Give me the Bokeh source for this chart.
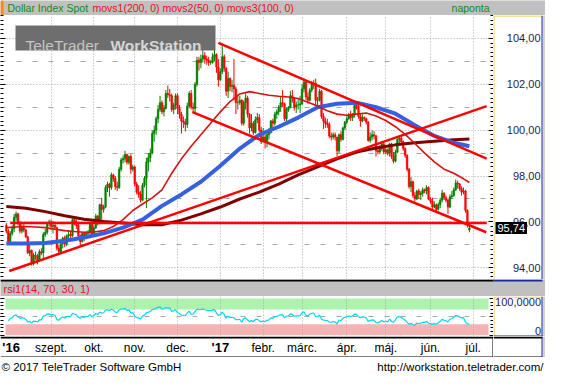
import numpy as np
from bokeh.plotting import figure
from bokeh.layouts import column, row
from bokeh.models import Range1d, LinearAxis, FixedTicker, Grid, BoxAnnotation, Label
from bokeh.core.properties import value
from bokeh.embed import file_html
from bokeh.resources import INLINE

# ---------------- data ----------------
TITLE = "Dollar Index Spot"
INDICATORS = "movs1(200, 0) movs2(50, 0) movs3(100, 0)"
PERIOD = "naponta"
RSI_TITLE = "rsi1(14, 70, 30, 1)"
COPYRIGHT = "\u00a9 2017 TeleTrader Software GmbH"
URL = "http://workstation.teletrader.com/"

# one bar per weekday, bar 0 = 1 Aug 2016
opens = [
    95.85, 95.60, 95.15, 95.50, 95.70, 96.20, 96.35, 95.95, 95.60, 95.75,
    95.65, 95.35, 94.65, 94.75, 94.20, 94.55, 94.50, 94.30, 94.70, 94.65,
    95.45, 95.55, 95.95, 96.00, 95.80, 95.85, 95.75, 94.85, 94.70, 95.05,
    95.30, 95.05, 95.40, 95.45, 95.40, 96.10, 96.00, 95.85, 95.40, 95.15,
    95.50, 95.30, 95.50, 95.55, 95.90, 95.45, 95.75, 96.25, 96.05, 96.75,
    96.55, 96.65, 97.50, 97.65, 97.50, 98.05, 97.90, 97.55, 97.50, 98.30,
    98.70, 98.75, 98.95, 98.60, 98.85, 98.30, 98.40, 97.65, 97.30, 97.20,
    96.95, 97.60, 97.90, 98.60, 98.80, 99.00, 99.85, 100.00, 100.50, 100.90,
    101.20, 100.80, 100.95, 101.60, 101.55, 101.50, 100.90, 101.10, 101.50, 100.95,
    100.70, 100.40, 100.35, 100.25, 101.05, 101.60, 101.00, 100.95, 102.00, 103.05,
    102.95, 103.10, 103.25, 103.10, 103.05, 102.95, 102.95, 103.20, 103.30, 102.75,
    102.20, 102.55, 103.20, 102.70, 101.70, 102.25, 101.90, 101.95, 101.80, 101.20,
    101.20, 101.30, 100.30, 101.20, 101.40, 100.70, 100.10, 100.30, 99.90, 100.45,
    100.55, 100.00, 99.50, 99.70, 99.50, 99.80, 99.90, 100.40, 100.30, 100.70,
    100.80, 101.00, 101.20, 101.15, 100.50, 100.90, 101.00, 101.50, 101.40, 101.00,
    101.10, 101.10, 101.15, 101.80, 102.10, 101.45, 101.30, 101.75, 102.00, 102.05,
    101.30, 101.30, 101.70, 100.60, 100.40, 100.30, 100.25, 99.75, 99.70, 99.80,
    99.70, 99.10, 99.80, 99.60, 100.10, 100.35, 100.50, 100.65, 100.55, 100.70,
    101.10, 101.05, 100.60, 100.40, 100.55, 100.50, 100.35, 99.55, 99.70, 99.80,
    99.75, 99.10, 99.05, 99.20, 99.40, 99.05, 99.15, 99.00, 99.40, 98.85,
    98.65, 99.05, 99.60, 99.65, 99.50, 99.20, 98.90, 98.30, 97.55, 97.75,
    97.15, 97.00, 97.35, 97.20, 97.25, 97.40, 97.35, 97.50, 97.00, 96.90,
    96.65, 96.75, 96.55, 96.75, 96.95, 97.25, 97.05, 96.95, 96.65, 97.10,
    97.15, 97.40, 97.70, 97.65, 97.45, 97.30, 97.35, 96.50, 95.65,
]
highs = [
    95.95, 95.70, 95.60, 95.85, 96.35, 96.45, 96.40, 96.05, 95.90, 95.95,
    95.70, 95.40, 95.00, 94.80, 94.65, 94.70, 94.60, 94.80, 94.85, 95.55,
    95.70, 96.00, 96.10, 96.10, 96.05, 95.95, 95.80, 95.00, 95.15, 95.35,
    95.40, 95.45, 95.60, 95.60, 96.15, 96.20, 96.10, 96.00, 95.45, 95.55,
    95.55, 95.60, 95.65, 96.00, 96.00, 95.85, 96.35, 96.30, 96.80, 97.05,
    96.75, 97.60, 97.75, 97.70, 98.15, 98.10, 98.00, 97.75, 98.40, 98.80,
    98.90, 99.10, 98.95, 98.90, 98.95, 98.50, 98.45, 97.75, 97.60, 97.35,
    97.70, 98.00, 98.80, 99.00, 99.20, 100.00, 100.20, 100.60, 101.10, 101.50,
    101.30, 101.10, 101.75, 101.95, 101.80, 101.60, 101.20, 101.60, 101.60, 101.10,
    100.80, 100.60, 100.50, 101.20, 101.70, 101.75, 101.20, 102.10, 103.20, 103.20,
    103.30, 103.65, 103.40, 103.25, 103.20, 103.05, 103.35, 103.50, 103.35, 103.10,
    102.70, 103.80, 103.30, 102.75, 102.55, 102.30, 102.20, 103.10, 101.90, 101.55,
    101.50, 101.35, 101.30, 101.60, 101.50, 100.75, 100.70, 100.40, 100.60, 100.75,
    100.70, 100.15, 100.10, 99.85, 100.00, 100.10, 100.45, 100.50, 100.80, 100.90,
    101.10, 101.45, 101.75, 101.20, 101.00, 101.05, 101.70, 101.75, 101.45, 101.25,
    101.35, 101.50, 102.00, 102.25, 102.15, 101.65, 101.85, 102.15, 102.20, 102.25,
    101.45, 101.80, 101.75, 100.75, 100.55, 100.50, 100.35, 99.90, 99.90, 99.90,
    99.70, 99.85, 99.95, 100.15, 100.40, 100.60, 100.75, 100.85, 100.75, 101.20,
    101.20, 101.10, 100.70, 100.70, 100.60, 100.55, 100.40, 99.90, 100.00, 99.95,
    99.80, 99.25, 99.35, 99.50, 99.45, 99.30, 99.20, 99.45, 99.45, 99.05,
    99.15, 99.65, 99.75, 99.80, 99.55, 99.25, 98.95, 98.35, 97.95, 97.80,
    97.30, 97.40, 97.45, 97.35, 97.50, 97.45, 97.60, 97.55, 97.10, 97.05,
    96.90, 96.80, 96.85, 97.05, 97.40, 97.30, 97.15, 97.00, 97.20, 97.35,
    97.50, 97.85, 97.80, 97.70, 97.55, 97.50, 97.40, 96.55, 95.90,
]
lows = [
    95.50, 95.05, 95.05, 95.40, 95.55, 96.05, 95.85, 95.50, 95.50, 95.55,
    95.30, 94.60, 94.50, 94.10, 94.10, 94.35, 94.15, 94.25, 94.55, 94.40,
    95.35, 95.45, 95.80, 95.65, 95.50, 95.65, 94.75, 94.55, 94.65, 94.85,
    94.90, 94.95, 95.30, 95.30, 95.35, 95.85, 95.70, 95.30, 94.95, 95.10,
    95.15, 95.25, 95.30, 95.45, 95.35, 95.40, 95.70, 95.85, 96.00, 96.10,
    96.40, 96.60, 97.30, 97.10, 97.40, 97.75, 97.40, 97.35, 97.45, 98.20,
    98.55, 98.60, 98.50, 98.50, 98.10, 98.20, 97.55, 97.20, 97.05, 96.85,
    96.90, 97.50, 96.60, 98.20, 98.60, 98.95, 99.50, 99.80, 100.30, 100.80,
    100.70, 100.60, 100.90, 101.40, 101.25, 100.80, 100.70, 100.90, 100.70, 100.50,
    99.85, 100.10, 99.95, 100.10, 100.95, 100.90, 100.75, 100.70, 101.90, 102.60,
    102.70, 102.95, 102.90, 102.85, 102.80, 102.85, 102.90, 103.00, 102.50, 101.90,
    102.15, 102.45, 102.55, 101.50, 101.40, 101.70, 101.65, 101.30, 100.70, 100.90,
    101.10, 100.20, 100.20, 100.90, 100.55, 99.85, 99.95, 99.80, 99.85, 100.30,
    99.90, 99.40, 99.45, 99.20, 99.25, 99.60, 99.85, 100.10, 100.20, 100.50,
    100.65, 100.80, 101.00, 100.40, 100.35, 100.80, 100.95, 101.20, 100.85, 100.75,
    100.90, 100.75, 101.10, 101.65, 101.30, 101.15, 101.25, 101.65, 101.80, 101.10,
    101.05, 101.25, 100.50, 100.05, 100.10, 100.10, 99.65, 99.55, 99.60, 99.55,
    98.85, 99.00, 99.50, 99.55, 100.00, 100.25, 100.45, 100.40, 100.40, 100.55,
    100.90, 100.50, 100.15, 100.35, 100.40, 100.25, 99.50, 99.45, 99.55, 99.60,
    98.85, 98.95, 98.95, 99.10, 98.95, 98.95, 98.90, 98.85, 98.75, 98.55,
    98.60, 99.00, 99.40, 99.40, 99.10, 98.80, 98.20, 97.45, 97.30, 97.05,
    96.90, 96.95, 97.00, 96.95, 97.10, 97.25, 97.20, 96.95, 96.80, 96.50,
    96.60, 96.45, 96.50, 96.60, 96.85, 96.95, 96.85, 96.35, 96.60, 97.00,
    97.10, 97.35, 97.45, 97.35, 97.15, 97.20, 96.40, 95.75, 95.55,
]
closes = [
    95.60, 95.15, 95.50, 95.70, 96.20, 96.35, 95.95, 95.60, 95.75, 95.65,
    95.35, 94.65, 94.75, 94.20, 94.55, 94.50, 94.30, 94.70, 94.65, 95.45,
    95.55, 95.95, 96.00, 95.80, 95.85, 95.75, 94.85, 94.70, 95.05, 95.30,
    95.05, 95.40, 95.45, 95.40, 96.10, 96.00, 95.85, 95.40, 95.15, 95.50,
    95.30, 95.50, 95.55, 95.90, 95.45, 95.75, 96.25, 96.05, 96.75, 96.55,
    96.65, 97.50, 97.65, 97.50, 98.05, 97.90, 97.55, 97.50, 98.30, 98.70,
    98.75, 98.95, 98.60, 98.85, 98.30, 98.40, 97.65, 97.30, 97.20, 96.95,
    97.60, 97.90, 98.60, 98.80, 99.00, 99.85, 100.00, 100.50, 100.90, 101.20,
    100.80, 100.95, 101.60, 101.55, 101.50, 100.90, 101.10, 101.50, 100.95, 100.70,
    100.40, 100.35, 100.25, 101.05, 101.60, 101.00, 100.95, 102.00, 103.05, 102.95,
    103.10, 103.25, 103.10, 103.05, 102.95, 102.95, 103.20, 103.30, 102.75, 102.20,
    102.55, 103.20, 102.70, 101.70, 102.25, 101.90, 101.95, 101.80, 101.20, 101.20,
    101.30, 100.30, 101.20, 101.40, 100.70, 100.10, 100.30, 99.90, 100.45, 100.55,
    100.00, 99.50, 99.70, 99.50, 99.80, 99.90, 100.40, 100.30, 100.70, 100.80,
    101.00, 101.20, 101.15, 100.50, 100.90, 101.00, 101.50, 101.40, 101.00, 101.10,
    101.10, 101.15, 101.80, 102.10, 101.45, 101.30, 101.75, 102.00, 102.05, 101.30,
    101.30, 101.70, 100.60, 100.40, 100.30, 100.25, 99.75, 99.70, 99.80, 99.70,
    99.10, 99.80, 99.60, 100.10, 100.35, 100.50, 100.65, 100.55, 100.70, 101.10,
    101.05, 100.60, 100.40, 100.55, 100.50, 100.35, 99.55, 99.70, 99.80, 99.75,
    99.10, 99.05, 99.20, 99.40, 99.05, 99.15, 99.00, 99.40, 98.85, 98.65,
    99.05, 99.60, 99.65, 99.50, 99.20, 98.90, 98.30, 97.55, 97.75, 97.15,
    97.00, 97.35, 97.20, 97.25, 97.40, 97.35, 97.50, 97.00, 96.90, 96.65,
    96.75, 96.55, 96.75, 96.95, 97.25, 97.05, 96.95, 96.65, 97.10, 97.15,
    97.40, 97.70, 97.65, 97.45, 97.30, 97.35, 96.50, 95.90, 95.74,
]

# moving averages (bar index -> value)
ma_idx_10 = [0, 10, 20, 30, 40, 50, 60, 70, 80, 90, 100, 110, 120, 130, 140, 150,
             160, 170, 180, 190, 200, 210, 220, 230, 238]
ma200 = [96.67, 96.60, 96.45, 96.27, 96.12, 96.02, 95.95, 95.88, 95.88, 96.08, 96.35,
         96.65, 97.00, 97.30, 97.65, 98.05, 98.40, 98.75, 99.05, 99.22, 99.36, 99.45,
         99.52, 99.58, 99.62]
ma100 = [95.06, 95.06, 95.08, 95.18, 95.32, 95.50, 95.75, 96.10, 96.70, 97.20, 97.75,
         98.45, 99.20, 99.80, 100.15, 100.55, 101.00, 101.15, 101.20, 101.00, 100.72,
         100.22, 99.75, 99.45, 99.30]
ma_idx_5 = [0, 5, 10, 15, 20, 25, 30, 35, 40, 45, 50, 55, 60, 65, 70, 75, 80, 85, 90,
            95, 100, 105, 110, 115, 120, 125, 130, 135, 140, 145, 150, 155, 160, 165,
            170, 175, 180, 185, 190, 195, 200, 205, 210, 215, 220, 225, 230, 235, 238]
ma50 = [95.75, 95.78, 95.80, 95.78, 95.75, 95.68, 95.62, 95.58, 95.55, 95.56, 95.62,
        95.80, 96.10, 96.50, 96.78, 97.05, 97.40, 98.12, 98.75, 99.30, 99.80, 100.30,
        100.80, 101.25, 101.58, 101.68, 101.60, 101.52, 101.48, 101.45, 101.38, 101.22,
        101.05, 100.85, 100.70, 100.65, 100.70, 100.75, 100.62, 100.42, 100.15, 99.82,
        99.42, 99.00, 98.62, 98.30, 98.12, 97.88, 97.72]

# drawn trend lines (start bar, start price, end bar, end price)
trend_x0 = [1.5, 2.0, 109.0, 95.7]
trend_y0 = [93.86, 95.95, 103.81, 100.79]
trend_x1 = [246.9, 246.9, 246.9, 246.7]
trend_y1 = [101.05, 95.95, 98.76, 95.55]

price_ticks = [94, 96, 98, 100, 102, 104]
price_half_ticks = [95, 97, 99, 101, 103]
month_idx = [0, 23, 45, 66, 88, 110, 132, 152, 175, 195, 218, 240]
month_labels = ["'16", "szept.", "okt.", "nov.", "dec.", "'17", "febr.", "m\u00e1rc.",
                "\u00e1pr.", "m\u00e1j.", "j\u00fan.", "j\u00fal."]

RSI_PERIOD = 14
RSI_UPPER, RSI_LOWER, RSI_MID = 70, 30, 50
RSI_SEED_GAIN, RSI_SEED_LOSS = 0.12, 0.15
rsi_ticks = [100, 0]
rsi_labels = ["100,0000", "0"]

# ---------------- layout constants ----------------
FONT = "Liberation Sans"
W, FW = 545, 493
BW = W - FW
H_HEAD, H_MAIN, H_RSIHEAD, H_RSI, H_XLAB, H_FOOT = 15, 264, 17, 40, 21, 18
X_START, X_END = -3.0, 250.4
P_LO, P_HI = 93.49, 105.0
R_LO, R_HI = -3.5, 105.4

GRAY = "#c0c0c0"
YEL = "#eec143"
BOXBLUE = "#1a2ba0"
STRIP = "#d4d0c8"
UP, DOWN = "#008000", "#ff0000"
GRID_C = "#a8a8a8"


def px2x(px):
    return X_START + px * (X_END - X_START) / FW


def py2p(py):
    return P_HI - py * (P_HI - P_LO) / H_MAIN


def py2r(py):
    return R_HI - py * (R_HI - R_LO) / H_RSI


def plain(width, height, xr, yr, bg="white"):
    f = figure(width=width, height=height, x_range=xr, y_range=yr,
               toolbar_location=None, output_backend="svg",
               x_axis_location=None, y_axis_location=None,
               min_border=0, outline_line_color=None,
               background_fill_color=bg, border_fill_color=bg)
    f.grid.visible = False
    return f


def box(fig, color, **kw):
    fig.add_layout(BoxAnnotation(fill_color=color, fill_alpha=1.0, line_color=None, **kw))


def tick_axis(ticks, minor, major_len, minor_len):
    return LinearAxis(ticker=FixedTicker(ticks=ticks, minor_ticks=minor),
                      major_label_overrides={t: "" for t in ticks},
                      major_label_standoff=0, axis_line_color=None,
                      major_tick_in=major_len, major_tick_out=0,
                      minor_tick_in=minor_len, minor_tick_out=0,
                      major_tick_line_color="black", minor_tick_line_color="black")


def add_grid(fig, dim, ticks, dash):
    fig.add_layout(Grid(dimension=dim, ticker=FixedTicker(ticks=ticks),
                        grid_line_color=GRID_C, grid_line_dash=dash, grid_line_width=1))


def lbl(fig, x, y, text, color="black", size="11px", align="left", style="normal",
        baseline="middle"):
    fig.add_layout(Label(x=x, y=y, text=text, text_color=color, text_font=FONT,
                         text_font_size=size, text_align=align, text_font_style=style,
                         text_baseline=baseline))


XR = Range1d(X_START, X_END)

# ---------------- header ----------------
header = plain(W, H_HEAD, Range1d(0, W), Range1d(H_HEAD, 0), GRAY)
box(header, "#ff8c00", left=0, right=3)
lbl(header, 7, 7.5, TITLE, "#138a13", "10.5px")
lbl(header, 92, 7.5, INDICATORS, "#e8101a", "10.5px")
lbl(header, FW - 4, 7.5, PERIOD, "#138a13", "10.5px", align="right")

# ---------------- main price panel ----------------
main = plain(FW, H_MAIN, XR, Range1d(P_LO, P_HI))
price_minor = [round(93.6 + 0.2 * k, 1) for k in range(58)]
main.add_layout(tick_axis(price_ticks, price_minor, 5, 3), "left")
main.add_layout(tick_axis(price_ticks, price_minor, 5, 3), "right")
add_grid(main, 0, month_idx[1:], "1 2")
add_grid(main, 1, price_ticks, "1 2")
add_grid(main, 1, price_half_ticks, "5 11")

idx = list(range(len(closes)))
colors = [UP if c >= o else DOWN for o, c in zip(opens, closes)]
body_top = [max(o, c) for o, c in zip(opens, closes)]
body_bot = [min(o, c) for o, c in zip(opens, closes)]
main.segment(x0=idx, y0=lows, x1=idx, y1=highs, line_color=colors, line_width=1)
main.vbar(x=idx, width=0.8, top=body_top, bottom=body_bot,
          fill_color=colors, line_color=colors, line_width=0.6)

main.line(ma_idx_10, ma200, line_color="#800000", line_width=3)
main.line(ma_idx_10, ma100, line_color="#3560e0", line_width=4)
main.line(ma_idx_5, ma50, line_color="#d81010", line_width=1.6)
main.segment(x0=trend_x0, y0=trend_y0, x1=trend_x1, y1=trend_y1,
             line_color="#ff0000", line_width=2.5)

# watermark
box(main, "#6e6e6e", left=px2x(15), right=px2x(215), top=py2p(10), bottom=py2p(35))
lbl(main, px2x(25), py2p(30), "TeleTrader", "#c4c4c4", "15.5px", baseline="alphabetic")
lbl(main, px2x(110), py2p(30), "WorkStation", "#d6d6d6", "15.5px", style="bold",
    baseline="alphabetic")

# price axis box
mbox = plain(BW, H_MAIN, Range1d(0, BW), main.y_range)
box(mbox, STRIP, left=BW - 3, right=BW)
box(mbox, YEL, left=0, right=1)
box(mbox, YEL, left=0, right=BW - 3, bottom=py2p(1))
box(mbox, BOXBLUE, left=BW - 4, right=BW - 3)
mbox.text(x=[47] * len(price_ticks), y=price_ticks,
          text=[f"{t:.2f}".replace(".", ",") for t in price_ticks],
          text_align="right", text_baseline="middle", text_font=value(FONT),
          text_font_size="11px", text_color="#1c1c4c")
last = closes[-1]
mbox.add_layout(Label(x=2, y=last, text=f"{last:.2f}".replace(".", ","),
                      text_color="white", background_fill_color="black",
                      text_font=FONT, text_font_size="11px", text_baseline="middle",
                      padding=2))

# ---------------- RSI header ----------------
rsihead = plain(W, H_RSIHEAD, Range1d(0, W), Range1d(H_RSIHEAD, 0), GRAY)
box(rsihead, "black", left=0, right=FW, top=0, bottom=2)
box(rsihead, BOXBLUE, left=FW, right=W - 3, top=0, bottom=2)
lbl(rsihead, 3, 9.5, RSI_TITLE, "#e8101a")

# ---------------- RSI panel ----------------
c_arr = np.array(closes)
diffs = np.diff(c_arr)
ag, al = RSI_SEED_GAIN, RSI_SEED_LOSS
rsi_vals = []
for d in diffs:
    ag = (ag * (RSI_PERIOD - 1) + max(d, 0.0)) / RSI_PERIOD
    al = (al * (RSI_PERIOD - 1) + max(-d, 0.0)) / RSI_PERIOD
    rsi_vals.append(100.0 - 100.0 / (1.0 + ag / al))

rsi_fig = plain(FW, H_RSI, XR, Range1d(R_LO, R_HI))
box(rsi_fig, "#adf2ad", left=px2x(5), right=px2x(488), bottom=RSI_UPPER, top=100,
    level="underlay")
box(rsi_fig, "#f5b4b4", left=px2x(5), right=px2x(488), bottom=0, top=RSI_LOWER,
    level="underlay")
rsi_minor = list(range(0, 101, 10))
rsi_fig.add_layout(tick_axis([0, 50, 100], rsi_minor, 4, 3), "left")
rsi_fig.add_layout(tick_axis([0, 50, 100], rsi_minor, 4, 3), "right")
add_grid(rsi_fig, 0, month_idx[1:], "1 2")
add_grid(rsi_fig, 1, [RSI_MID], "5 11")
rsi_fig.line(idx[1:], rsi_vals, line_color="#00d8f0", line_width=1.2)

rbox = plain(BW, H_RSI, Range1d(0, BW), rsi_fig.y_range)
box(rbox, STRIP, left=BW - 3, right=BW)
box(rbox, YEL, left=0, right=1)
box(rbox, YEL, left=0, right=BW - 3, bottom=py2r(1))
box(rbox, BOXBLUE, left=BW - 4, right=BW - 3)
box(rbox, BOXBLUE, left=0, right=BW - 3, top=py2r(H_RSI - 1))
rbox.text(x=[47.5], y=[rsi_ticks[0]], text=[rsi_labels[0]], text_align="right",
          text_baseline="top", text_font=value(FONT), text_font_size="11px",
          text_color="#1c1c4c")
rbox.text(x=[47.5], y=[py2r(H_RSI - 1.5)], text=[rsi_labels[1]], text_align="right",
          text_baseline="bottom", text_font=value(FONT), text_font_size="11px",
          text_color="#1c1c4c")

# ---------------- time axis row ----------------
xlab = plain(FW, H_XLAB, XR, Range1d(H_XLAB, 0))
box(xlab, "black", top=0, bottom=2)
box(xlab, "black", top=H_XLAB - 1, bottom=H_XLAB)
box(xlab, "black", left=px2x(FW - 1), right=px2x(FW))
years_i = [i for i, t in enumerate(month_labels) if t.startswith("'")]
months_i = [i for i, t in enumerate(month_labels) if not t.startswith("'")]
xlab.text(x=[month_idx[0]], y=[11], text=[month_labels[0]], text_align="left",
          x_offset=-4, text_baseline="middle", text_font=value(FONT),
          text_font_size="13px", text_font_style="bold", text_color="black")
xlab.text(x=[month_idx[i] for i in years_i[1:]], y=[11] * len(years_i[1:]),
          text=[month_labels[i] for i in years_i[1:]], text_align="center",
          text_baseline="middle", text_font=value(FONT), text_font_size="13px",
          text_font_style="bold", text_color="black")
xlab.text(x=[month_idx[i] for i in months_i], y=[11] * len(months_i),
          text=[month_labels[i] for i in months_i], text_align="center",
          text_baseline="middle", text_font=value(FONT), text_font_size="12px",
          text_color="black")

xbox = plain(BW, H_XLAB, Range1d(0, BW), Range1d(H_XLAB, 0))
box(xbox, STRIP, left=BW - 3, right=BW)
box(xbox, "black", left=0, right=BW - 3, top=0, bottom=2)
box(xbox, "black", left=0, right=BW - 3, top=H_XLAB - 1, bottom=H_XLAB)
box(xbox, BOXBLUE, left=BW - 4, right=BW - 3)

# ---------------- footer ----------------
footer = plain(W, H_FOOT, Range1d(0, W), Range1d(H_FOOT, 0), "white")
lbl(footer, 1, 9.5, COPYRIGHT, "black", "11.5px")
lbl(footer, W - 2, 9.5, URL, "black", "11.5px", align="right")

layout = column(header, row(main, mbox), rsihead, row(rsi_fig, rbox),
                row(xlab, xbox), footer)

open("out.html", "w").write(file_html(layout, INLINE))
